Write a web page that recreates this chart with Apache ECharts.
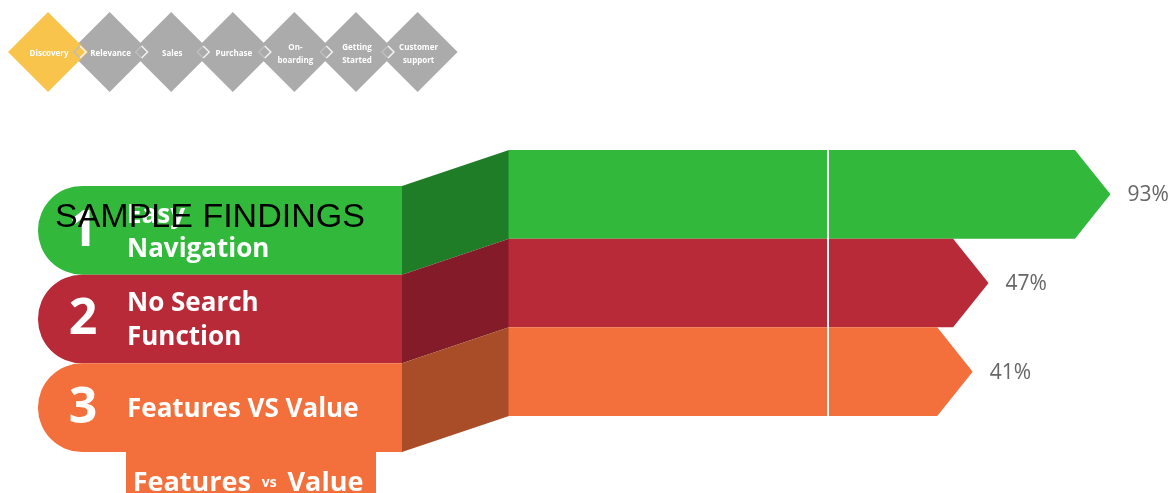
<!DOCTYPE html>
<html>
<head>
<meta charset="utf-8">
<script src="https://cdn.jsdelivr.net/npm/echarts@6/dist/echarts.min.js"></script>
<style>
html,body{margin:0;padding:0;background:#fff;}
#main{width:1176px;height:493px;}
</style>
</head>
<body>
<div id="main"></div>
<script>
// ---- data ----
const categories = ['1', '2', '3'];
const findingLabels = ['Easy\nNavigation', 'No Search\nFunction', 'Features VS Value'];
const values = [93, 47, 41];
const stages = ['Discovery', 'Relevance', 'Sales', 'Purchase', 'On-\nboarding', 'Getting\nStarted', 'Customer\nsupport'];
const activeStage = 0;

// ---- styles ----
const barColors = ['#32B83A', '#B92A38', '#F3703C'];
const sideColors = ['#207D27', '#831B28', '#A84D28'];
const X_MIN = -134, X_MAX = 100;

const chart = echarts.init(document.getElementById('main'));

const graphics = [];
// stage diamonds (earlier ones on top)
for (let i = stages.length - 1; i >= 0; i--) {
  const cx = 48 + 61.6 * i, cy = 52, h = 40;
  graphics.push({
    type: 'polygon', z: 100 - i,
    shape: { points: [[cx - h, cy], [cx, cy - h], [cx + h, cy], [cx, cy + h]] },
    style: { fill: i === activeStage ? '#F8C44C' : '#ABABAB' }
  });
  graphics.push({
    type: 'text', z: 100 - i, x: cx + 1, y: cy + 2,
    style: {
      text: stages[i], fill: '#fff', font: 'bold 8px "Open Sans"',
      align: 'center', verticalAlign: 'middle', lineHeight: 13
    }
  });
  if (i < stages.length - 1) {
    const jx = cx + 32;
    graphics.push({
      type: 'polyline', z: 200,
      shape: { points: [[jx, cy - 6], [jx - 6, cy], [jx, cy + 6]] },
      style: { stroke: '#BDBDBD', lineWidth: 1.5, fill: null }
    });
    graphics.push({
      type: 'polyline', z: 200,
      shape: { points: [[jx, cy - 6], [jx + 6, cy], [jx, cy + 6]] },
      style: { stroke: '#F2F2F2', lineWidth: 1.5, fill: null }
    });
  }
}
// orange strip below the pills
graphics.push({
  type: 'rect', z: 1, shape: { x: 126, y: 451, width: 250, height: 42 },
  style: { fill: '#F3703C' }
});
graphics.push({
  type: 'text', z: 2, x: 248, y: 483,
  style: {
    text: '{a|Features}{b|   vs   }{a|Value}',
    align: 'center', verticalAlign: 'middle',
    rich: {
      a: { fill: '#fff', font: 'bold 27px "Open Sans"' },
      b: { fill: '#fff', font: 'bold 14px "Open Sans"' }
    }
  }
});
// white divider
graphics.push({
  type: 'rect', z: 50, shape: { x: 827, y: 150, width: 2, height: 266 },
  style: { fill: '#fff' }
});

chart.setOption({
  animation: false,
  title: {
    text: 'SAMPLE FINDINGS', left: 50, top: 196, z: 300,
    textStyle: { fontFamily: 'Liberation Sans', fontWeight: 'normal', fontSize: 34, color: '#000' }
  },
  grid: { left: 509, top: 150, width: 620, height: 266 },
  xAxis: { type: 'value', min: X_MIN, max: X_MAX, show: false },
  yAxis: { type: 'category', data: categories, inverse: true, show: false },
  graphic: graphics,
  series: [{
    type: 'custom',
    data: values.map((v, i) => [v, i]),
    encode: { x: 0, y: 1 },
    renderItem: function (params, api) {
      const idx = params.dataIndex;
      const start = api.coord([X_MIN, idx]);
      const end = api.coord([api.value(0), idx]);
      const band = api.size([0, 1])[1];
      const top = start[1] - band / 2, bottom = top + band, cy = start[1];
      const tip = band * 0.4;
      const sx = start[0];
      const shift = 36, sideW = 107, pillW = 364;
      return {
        type: 'group',
        children: [
          {
            type: 'rect',
            shape: { x: sx - sideW - pillW, y: top + shift, width: pillW + 1, height: band, r: [44, 0, 0, 44] },
            style: { fill: barColors[idx] }
          },
          {
            type: 'polygon',
            shape: { points: [[sx - sideW, top + shift], [sx, top], [sx, bottom], [sx - sideW, bottom + shift]] },
            style: { fill: sideColors[idx] }
          },
          {
            type: 'polygon',
            shape: { points: [[sx - 0.5, top], [end[0] - tip, top], [end[0], cy], [end[0] - tip, bottom], [sx - 0.5, bottom]] },
            style: { fill: barColors[idx] }
          },
          {
            type: 'text', x: sx - sideW - pillW + 45, y: cy + shift + 1,
            style: { text: categories[idx], fill: '#fff', font: 'bold 50px "Open Sans"', align: 'center', verticalAlign: 'middle' }
          },
          {
            type: 'text', x: sx - sideW - pillW + 89, y: cy + shift + 2,
            style: { text: findingLabels[idx], fill: '#fff', font: 'bold 26px "Open Sans"', align: 'left', verticalAlign: 'middle', lineHeight: 34 }
          },
          {
            type: 'text', x: end[0] + 17, y: cy + 1,
            style: { text: api.value(0) + '%', fill: '#666', font: '21px "Open Sans"', align: 'left', verticalAlign: 'middle' }
          }
        ]
      };
    }
  }]
});
</script>
</body>
</html>
